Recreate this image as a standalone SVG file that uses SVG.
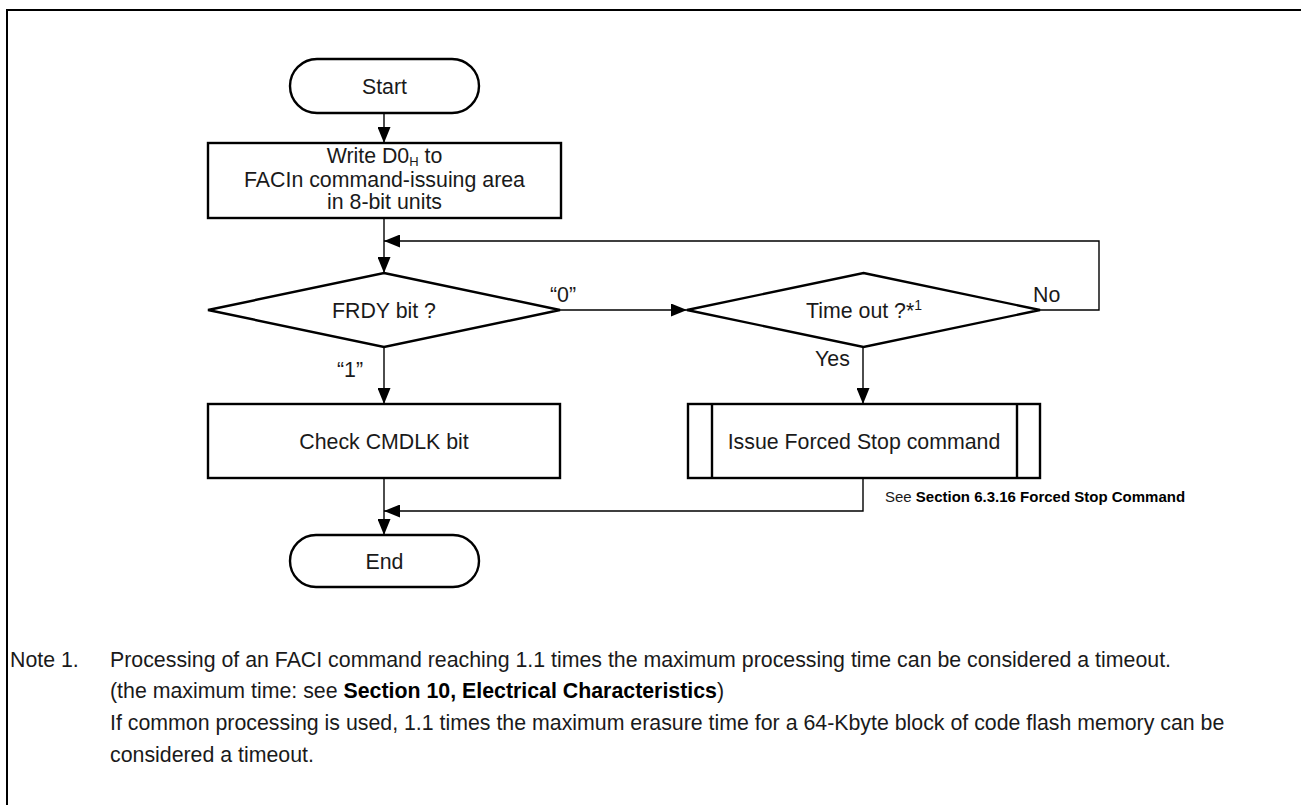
<svg xmlns="http://www.w3.org/2000/svg" width="1301" height="805" viewBox="0 0 1301 805">
<defs>
<marker id="arr" viewBox="0 0 16 13" refX="16" refY="6.5" markerWidth="16" markerHeight="13" markerUnits="userSpaceOnUse" orient="auto">
<path d="M0,0 L16,6.5 L0,13 z" fill="#000"/>
</marker>
</defs>
<style>
.shape{fill:#fff;stroke:#000;stroke-width:2.4}
.conn{fill:none;stroke:#000;stroke-width:1.4}
text{font-family:"Liberation Sans",Arial,sans-serif;fill:#1a1a1a}
.lbl{font-size:21.33px;text-anchor:middle}
.edge{font-size:21.33px}
.note{font-size:21.33px}
.b{font-weight:bold;fill:#000}
.small{font-size:15px}
</style>
<rect width="1301" height="805" fill="#fff"/>
<path d="M7,805 V10 H1301" fill="none" stroke="#000" stroke-width="2"/>

<g id="connectors">
<path class="conn" d="M384,113 V143" marker-end="url(#arr)"/>
<path class="conn" d="M384,218 V273" marker-end="url(#arr)"/>
<path class="conn" d="M1040,310 H1099 V241 H384" marker-end="url(#arr)"/>
<path class="conn" d="M560,310 H687" marker-end="url(#arr)"/>
<path class="conn" d="M384,347 V404" marker-end="url(#arr)"/>
<path class="conn" d="M863,347 V404" marker-end="url(#arr)"/>
<path class="conn" d="M384,478 V535" marker-end="url(#arr)"/>
<path class="conn" d="M863,478 V511 H384" marker-end="url(#arr)"/>
<text class="edge" x="550" y="302">“0”</text>
<text class="edge" x="1033" y="302">No</text>
<text class="edge" x="815" y="366">Yes</text>
<text class="edge" x="337" y="377">“1”</text>
</g>

<g id="start">
<rect class="shape" x="290" y="59" width="189" height="54" rx="27" ry="27"/>
<text class="lbl" x="384.5" y="94">Start</text>
</g>

<g id="write">
<rect class="shape" x="208" y="143" width="353" height="75"/>
<text class="lbl" x="384.5" y="163">Write D0<tspan font-size="13px" dy="3">H</tspan><tspan dy="-3"> to</tspan></text>
<text class="lbl" x="384.5" y="187">FACIn command-issuing area</text>
<text class="lbl" x="384.5" y="209">in 8-bit units</text>
</g>

<g id="frdy">
<polygon class="shape" points="384,273 560,310 384,347 208,310"/>
<text class="lbl" x="384" y="318">FRDY bit ?</text>
</g>

<g id="timeout">
<polygon class="shape" points="863.5,273 1040,310 863.5,347 687,310"/>
<text class="edge" x="806" y="318">Time out ?*<tspan font-size="14px" dy="-8">1</tspan></text>
</g>

<g id="cmdlk">
<rect class="shape" x="208" y="404" width="352" height="74"/>
<text class="lbl" x="384" y="449">Check CMDLK bit</text>
</g>

<g id="forcedstop">
<rect class="shape" x="688" y="404" width="352" height="74"/>
<line class="shape" x1="712" y1="404" x2="712" y2="478"/>
<line class="shape" x1="1017" y1="404" x2="1017" y2="478"/>
<text class="lbl" x="864" y="449">Issue Forced Stop command</text>
<text class="small" x="885" y="502">See <tspan class="b">Section 6.3.16 Forced Stop Command</tspan></text>
</g>

<g id="end">
<rect class="shape" x="290" y="535" width="189" height="52" rx="26" ry="26"/>
<text class="lbl" x="384.5" y="569">End</text>
</g>

<g id="note">
<text class="note" x="10" y="667">Note 1.</text>
<text class="note" x="110" y="667">Processing of an FACI command reaching 1.1 times the maximum processing time can be considered a timeout.</text>
<text class="note" x="110" y="698">(the maximum time: see <tspan class="b">Section 10, Electrical Characteristics</tspan>)</text>
<text class="note" x="110" y="730">If common processing is used, 1.1 times the maximum erasure time for a 64-Kbyte block of code flash memory can be</text>
<text class="note" x="110" y="762">considered a timeout.</text>
</g>
</svg>
